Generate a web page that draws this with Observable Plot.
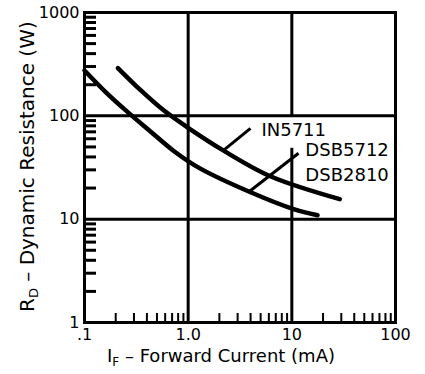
<!DOCTYPE html>
<html><head><meta charset="utf-8">
<script src="https://cdn.jsdelivr.net/npm/d3@7"></script>
<script src="https://cdn.jsdelivr.net/npm/@observablehq/plot@0.6"></script>
<style>body{margin:0;background:#fff}</style>
</head><body><div id="chart"></div>
<script>
// Axis ticks and labels
const xTicks = [0.1, 1, 10, 100];
const xTickLabels = [".1", "1.0", "10", "100"];
const yTicks = [1, 10, 100, 1000];
const yTickLabels = ["1", "10", "100", "1000"];
const xMinor = [0.2,0.3,0.4,0.5,0.6,0.7,0.8,0.9, 2,3,4,5,6,7,8,9, 20,30,40,50,60,70,80,90];
const yMinor = [2,3,4,5,6,7,8,9, 20,30,40,50,60,70,80,90, 200,300,400,500,600,700,800,900];

// Curve IN5711 (upper)
const in5711Current = [0.21, 0.35, 0.58, 1.05, 2.2, 6.2, 29];
const in5711Resistance = [290, 176, 113, 74, 46, 26, 15.6];
// Curve DSB5712 / DSB2810 (lower)
const dsbCurrent = [0.1, 0.16, 0.25, 0.43, 0.72, 1.3, 4.0, 10.4, 17.7];
const dsbResistance = [275, 170, 113, 71, 46, 31, 18.2, 12.5, 10.9];

// Series labels
const seriesLabels = ["IN5711", "DSB5712", "DSB2810"];
const labelCurrent = [5.09, 13.5, 13.5];
const labelResistance = [72.4, 46.9, 26.9];

// Leader lines
const leaderX1 = [2.19, 3.81];
const leaderY1 = [46.4, 18.2];
const leaderX2 = [3.99, 11.6];
const leaderY2 = [75.7, 43.4];

// Grid lines
const gridX = [1, 10, 10];
const gridXFrom = [1, 100, 1];
const gridXTo = [1000, 1000, 48.5];
const gridY = [10, 100];

const W = 425, H = 374, mL = 84, mR = 30, mT = 12, mB = 52;
const plotW = W - mL - mR, plotH = H - mT - mB;

const curves = [
  ...in5711Current.map((x, i) => ({x, y: in5711Resistance[i], s: "IN5711"})),
  ...dsbCurrent.map((x, i) => ({x, y: dsbResistance[i], s: "DSB"}))
];
const leaders = leaderX1.map((x1, i) => ({x1, y1: leaderY1[i], x2: leaderX2[i], y2: leaderY2[i]}));
const gridXSeg = gridX.map((x, i) => ({x, y1: gridXFrom[i], y2: gridXTo[i]}));
const labels = seriesLabels.map((t, i) => ({t, x: labelCurrent[i], y: labelResistance[i]}));

const svg = Plot.plot({
  width: W, height: H,
  marginLeft: mL, marginRight: mR, marginTop: mT, marginBottom: mB,
  style: {fontFamily: "DejaVu Sans", fontSize: "16px", background: "white", color: "black"},
  x: {type: "log", domain: [0.1, 100]},
  y: {type: "log", domain: [1, 1000]},
  marks: [
    Plot.ruleX(gridXSeg, {x: "x", y1: "y1", y2: "y2", strokeWidth: 3, stroke: "black"}),
    Plot.ruleY(gridY, {strokeWidth: 3, stroke: "black"}),
    Plot.tickY(yMinor, {y: d => d, insetRight: plotW - 12, strokeWidth: 3, stroke: "black"}),
    Plot.tickX(xMinor, {x: d => d, insetTop: plotH - 9, strokeWidth: 2, stroke: "black"}),
    Plot.line(curves, {x: "x", y: "y", z: "s", curve: "catmull-rom", strokeWidth: 4.5, stroke: "black", strokeLinecap: "round"}),
    Plot.link(leaders, {x1: "x1", y1: "y1", x2: "x2", y2: "y2", strokeWidth: 3, stroke: "black"}),
    Plot.text(labels, {x: "x", y: "y", text: "t", textAnchor: "start", fontSize: 18, fill: "black"}),
    Plot.axisX(xTicks, {tickSize: 0, tickPadding: 6, tickFormat: d => xTickLabels[xTicks.indexOf(d)], label: null, fontSize: 16}),
    Plot.axisY(yTicks, {tickSize: 0, tickPadding: 5, tickFormat: d => yTickLabels[yTicks.indexOf(d)], label: null, fontSize: 16}),
    Plot.frame({strokeWidth: 3, stroke: "black"})
  ]
});

const s = d3.select(svg);
const xt = s.append("text").attr("x", 107).attr("y", 362).attr("text-anchor", "start")
  .attr("font-family", "DejaVu Sans").attr("font-size", 18).attr("fill", "black");
xt.append("tspan").text("I");
xt.append("tspan").attr("dy", 4).attr("font-size", 12).text("F");
xt.append("tspan").attr("dy", -4).text(" \u2013 Forward Current (mA)");

const yt = s.append("text").attr("transform", "translate(34,312) rotate(-90)").attr("text-anchor", "start")
  .attr("font-family", "DejaVu Sans").attr("font-size", 20).attr("fill", "black");
yt.append("tspan").text("R");
yt.append("tspan").attr("dy", 4).attr("font-size", 13).text("D");
yt.append("tspan").attr("dy", -4).text(" \u2013 Dynamic Resistance (W)");

document.getElementById("chart").appendChild(svg);
</script>
</body></html>
